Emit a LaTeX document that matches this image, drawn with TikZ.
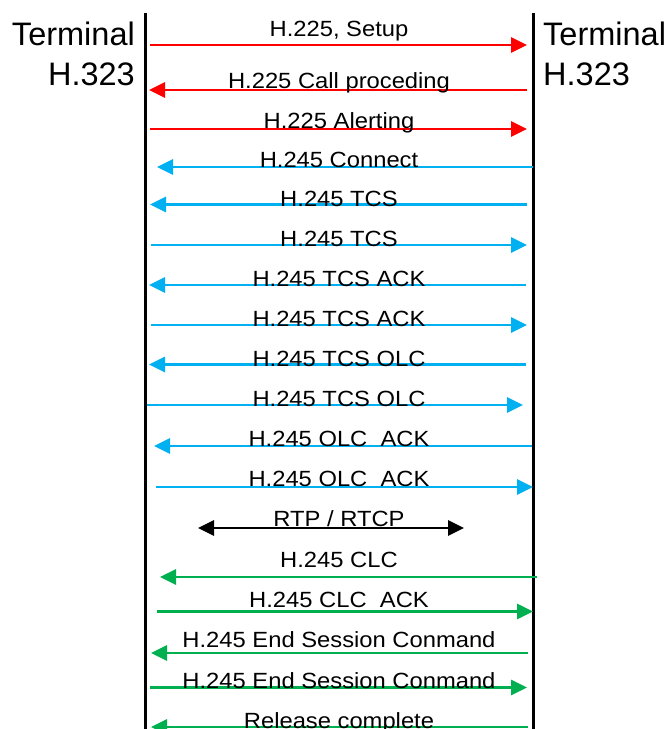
\documentclass[tikz,border=0pt]{standalone}
\usepackage{fontspec}
\setmainfont{Liberation Sans}
\usetikzlibrary{arrows.meta}
\definecolor{msgred}{RGB}{255,0,0}
\definecolor{msgblue}{RGB}{0,176,240}
\definecolor{msggreen}{RGB}{0,176,80}
\begin{document}
\begin{tikzpicture}[x=1pt,y=-1pt,
  lifeline/.style={line width=3.8pt,black},
  msg/.style={line width=2.8pt},
  sa/.style={-{Triangle[length=16pt,width=15pt]}},
  da/.style={{Triangle[length=16pt,width=15pt]}-{Triangle[length=16pt,width=15pt]}},
  lbl/.style={anchor=base,inner sep=0pt,font=\fontsize{22}{26}\selectfont,xscale=1.08,transform shape},
  term/.style={inner sep=0pt,font=\fontsize{32.5}{38}\selectfont}]
\useasboundingbox (0,0) rectangle (669,729);
\coordinate (lt) at (145.5,13);
\coordinate (lb) at (145.5,735);
\coordinate (rt) at (533.5,13);
\coordinate (rb) at (533.5,735);
\draw[lifeline] (lt) -- (lb);
\draw[lifeline] (rt) -- (rb);
\node[term,anchor=base east] (tl1) at (135,45) {Terminal};
\node[term,anchor=base east] (tl2) at (135,85) {H.323};
\node[term,anchor=base west] (tr1) at (543,45) {Terminal};
\node[term,anchor=base west] (tr2) at (543,85) {H.323};
\foreach \i/\ya/\xa/\xb/\col/\st/\yb/\txt in {
  1/45/150/527/msgred/sa/36/{H.225, Setup},
  2/90/527/149/msgred/sa/88/{H.225 Call proceding},
  3/129/150/527/msgred/sa/128/{H.225 Alerting},
  4/167/533/157/msgblue/sa/167/{H.245 Connect},
  5/204.5/527/150/msgblue/sa/206/{H.245 TCS},
  6/245/151/527/msgblue/sa/246/{H.245 TCS},
  7/285/526/149/msgblue/sa/286/{H.245 TCS ACK},
  8/325/151/527/msgblue/sa/326/{H.245 TCS ACK},
  9/364.5/526/149/msgblue/sa/366/{H.245 TCS OLC},
  10/405/147/523/msgblue/sa/406/{H.245 TCS OLC},
  11/446/532/154/msgblue/sa/446/{H.245 OLC\ \ ACK},
  12/487/156/533/msgblue/sa/486/{H.245 OLC\ \ ACK},
  13/528/198/464/black/da/526/{RTP / RTCP},
  14/577/537/160/msggreen/sa/567/{H.245 CLC},
  15/611.5/157/533/msggreen/sa/607/{H.245 CLC\ \ ACK},
  16/653/528/151/msggreen/sa/647/{H.245 End Session Conmand},
  17/687.5/150/527/msggreen/sa/688/{H.245 End Session Conmand},
  18/727/528/151/msggreen/sa/728/{Release complete}} {
  \coordinate (s\i) at (\xa,\ya);
  \coordinate (e\i) at (\xb,\ya);
  \draw[msg,draw=\col,fill=\col,\st] (s\i) -- (e\i);
  \node[lbl] (l\i) at (339,\yb) {\txt};
}
\end{tikzpicture}
\end{document}
